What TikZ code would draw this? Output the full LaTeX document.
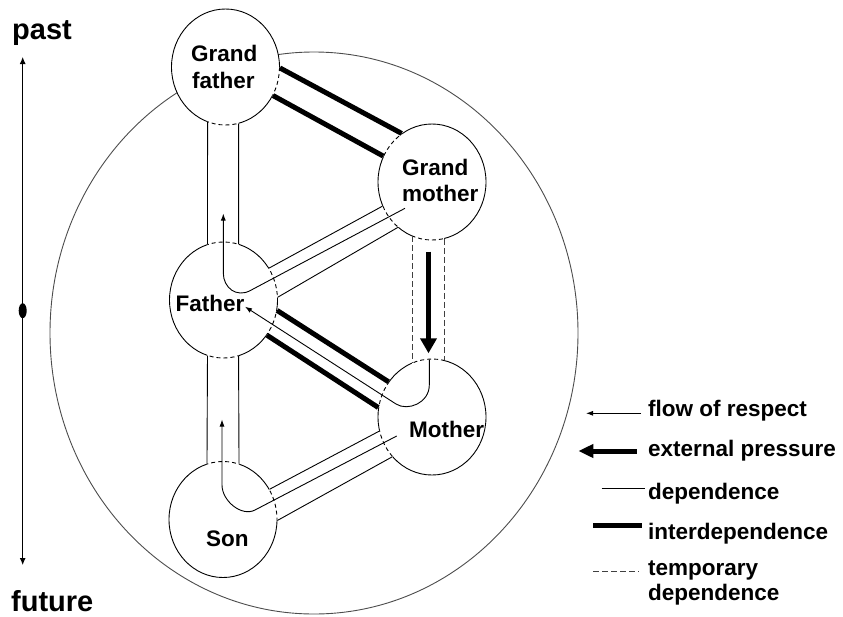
\documentclass[tikz,border=0pt]{standalone}
\usepackage{fontspec}
\setmainfont{Liberation Sans}
\usetikzlibrary{shapes.geometric,arrows.meta,calc}

% dashed rim where a pair of parallel lines meets the two member circles
\newcommand\tubedash[4]{%
  \begin{scope}
    \clip ($(#1)!-12pt!(#3)$) -- ($(#3)!-12pt!(#1)$) -- ($(#4)!-12pt!(#2)$) -- ($(#2)!-12pt!(#4)$) -- cycle;
    \foreach \p in {gf,gm,fa,mo,so}{
      \draw[white,line width=2.6pt] (\p.center) ellipse[x radius=54,y radius=58];
      \draw[rim] (\p.center) ellipse[x radius=54,y radius=58];}
  \end{scope}}

\begin{document}
\begin{tikzpicture}[x=1pt,y=-1pt,
  person/.style={ellipse,draw=black,fill=white,line width=0.9pt,
    minimum width=108pt,minimum height=116pt,inner sep=0pt},
  lbl/.style={inner sep=0pt,anchor=base west,font=\fontsize{22.5}{26}\selectfont\bfseries},
  biglbl/.style={lbl,font=\fontsize{29}{34}\selectfont\bfseries},
  dep/.style={line width=0.9pt},
  inter/.style={line width=5pt},
  temp/.style={line width=0.9pt,black!75,dash pattern=on 6pt off 3pt},
  rim/.style={line width=0.9pt,dash pattern=on 4pt off 3pt},
  respect/.style={line width=0.9pt,-{Latex[length=7pt,width=5pt]}},
  pressure/.style={line width=5.5pt,-{Triangle[length=15pt,width=16pt]}},
  ring/.style={draw=black!70,line width=0.9pt}
]
\useasboundingbox (0,0) rectangle (843,616);

% family ring
\draw[ring] (314,333) ellipse[x radius=264,y radius=281];

% members
\node[person] (gf) at (225.5,67) {};
\node[person] (gm) at (432,182) {};
\node[person] (fa) at (223.5,300) {};
\node[person] (mo) at (432,417) {};
\node[person] (so) at (223,519.5) {};

% end points of the parallel line pairs
\coordinate (gfgm1) at (gf.-1.3);    \coordinate (gmgf1) at (gm.122.6);
\coordinate (gfgm2) at (gf.-31.2);   \coordinate (gmgf2) at (gm.152.7);
\coordinate (gffa1) at (gf.-108.7);  \coordinate (fagf1) at (fa.106.6);
\coordinate (gffa2) at (gf.-77.5);   \coordinate (fagf2) at (fa.75.5);
\coordinate (faso1) at (fa.-106.6);  \coordinate (sofa1) at (so.106.1);
\coordinate (faso2) at (fa.-75.5);   \coordinate (sofa2) at (so.74.9);
\coordinate (fagm1) at (fa.35.6);    \coordinate (gmfa1) at (gm.-154.9);
\coordinate (fagm2) at (fa.3.5);     \coordinate (gmfa2) at (gm.-127.3);
\coordinate (gmmo1) at (gm.-110.7);  \coordinate (mogm1) at (mo.110.7);
\coordinate (gmmo2) at (gm.-78);     \coordinate (mogm2) at (mo.78);
\coordinate (famo1) at (fa.-11.3);   \coordinate (mofa1) at (mo.141);
\coordinate (famo2) at (fa.-39.3);   \coordinate (mofa2) at (mo.170.3);
\coordinate (somo1) at (so.33.6);    \coordinate (moso1) at (mo.-165.7);
\coordinate (somo2) at (so.-1.3);    \coordinate (moso2) at (mo.-135);

\tubedash{gfgm1}{gfgm2}{gmgf1}{gmgf2}
\tubedash{gffa1}{gffa2}{fagf1}{fagf2}
\tubedash{faso1}{faso2}{sofa1}{sofa2}
\tubedash{fagm1}{fagm2}{gmfa1}{gmfa2}
\tubedash{gmmo1}{gmmo2}{mogm1}{mogm2}
\tubedash{famo1}{famo2}{mofa1}{mofa2}
\tubedash{somo1}{somo2}{moso1}{moso2}

% interdependence
\draw[inter] (gfgm1) -- (gmgf1);
\draw[inter] (gfgm2) -- (gmgf2);
\draw[inter] (famo1) -- (mofa1);
\draw[inter] (famo2) -- (mofa2);
% dependence
\draw[dep] (gffa1) -- (fagf1);
\draw[dep] (gffa2) -- (fagf2);
\draw[dep] (faso1) -- (sofa1);
\draw[dep] (faso2) -- (sofa2);
\draw[dep] (fagm1) -- (gmfa1);
\draw[dep] (fagm2) -- (gmfa2);
\draw[dep] (somo1) -- (moso1);
\draw[dep] (somo2) -- (moso2);
% temporary dependence
\draw[temp] (gmmo1) -- (mogm1);
\draw[temp] (gmmo2) -- (mogm2);

% flow of respect
\coordinate (gmin) at (405,208.3);
\coordinate (fabend) at (250,290.7);
\coordinate (faup) at (223.3,273);
\coordinate (fatip) at (223.3,213.5);
\draw[respect] (gmin) -- (fabend) .. controls +(-13.2,7) and +(0,15) .. (faup) -- (fatip);

\coordinate (moin) at (396.7,436);
\coordinate (sobend) at (255,510);
\coordinate (soup) at (222,485);
\coordinate (sotip) at (222,419.5);
\draw[respect] (moin) -- (sobend) .. controls +(-13.3,7) and +(0,16) .. (soup) -- (sotip);

\coordinate (motop) at (429.3,359.5);
\coordinate (modown) at (429.3,385);
\coordinate (mobend) at (396,404);
\coordinate (fatip2) at (245,306.7);
\draw[respect] (motop) -- (modown) .. controls +(0,18) and +(11.8,7.5) .. (mobend) -- (fatip2);

% external pressure
\coordinate (epstart) at (428.5,251.7);
\coordinate (eptip) at (428.5,353.3);
\draw[pressure] (epstart) -- (eptip);

% names
\node[lbl] (gf-a) at (191,61.7) {Grand};
\node[lbl] (gf-b) at (192,88.3) {father};
\node[lbl] (gm-a) at (402,175.7) {Grand};
\node[lbl] (gm-b) at (402,201.7) {mother};
\node[lbl] (fa-t) at (175.5,311.7) {Father};
\node[lbl] (mo-t) at (409,437.7) {Mother};
\node[lbl] (so-t) at (206,546.7) {Son};

% time axis
\coordinate (tltop) at (22.7,57);
\coordinate (tlbot) at (22.7,565);
\draw[line width=0.9pt,{Latex[length=7pt,width=6pt]}-{Latex[length=7pt,width=6pt]}] (tltop) -- (tlbot);
\fill (22.7,310.7) ellipse[x radius=4,y radius=7.5];
\node[biglbl] (past) at (12,39.3) {past};
\node[biglbl] (future) at (11,611.5) {future};

% legend
\draw[respect] (641,413.3) -- (586,413.3);
\draw[line width=5pt,-{Triangle[length=15pt,width=13pt]}] (636.7,451) -- (578.3,451);
\draw[dep] (601.7,488.3) -- (645,488.3);
\draw[inter] (593.3,525) -- (641.7,525);
\draw[temp] (593.3,571.7) -- (639.3,571.7);
\node[lbl] (lg1) at (648,416) {flow of respect};
\node[lbl] (lg2) at (648,456) {external pressure};
\node[lbl] (lg3) at (648,499) {dependence};
\node[lbl] (lg4) at (648,539.3) {interdependence};
\node[lbl] (lg5) at (648,575) {temporary};
\node[lbl] (lg6) at (648,600) {dependence};
\end{tikzpicture}
\end{document}
